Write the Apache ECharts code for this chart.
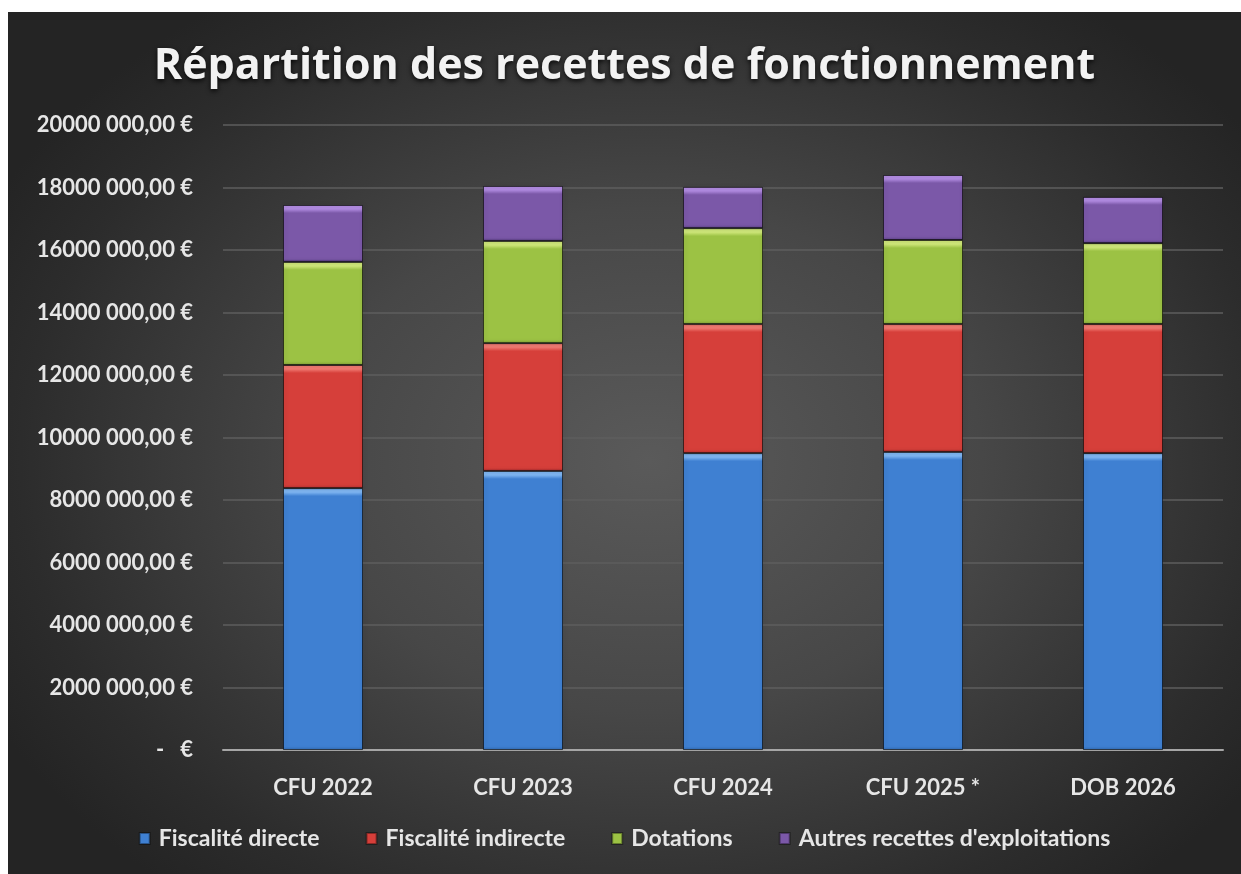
<!DOCTYPE html>
<html>
<head>
<meta charset="utf-8">
<script src="https://cdn.jsdelivr.net/npm/echarts@6/dist/echarts.min.js"></script>
<style>
  html,body{margin:0;padding:0;background:#fff;}
  #chart{position:absolute;left:8px;top:12px;width:1233px;height:862px;
    background:radial-gradient(ellipse 60% 65% at 52% 52%, #5a5a5a 0%, #474747 45%, #2c2c2c 85%, #242424 100%);}
</style>
</head>
<body>
<div id="chart"></div>
<script>
  // données
  var categories = ['CFU 2022', 'CFU 2023', 'CFU 2024', 'CFU 2025 *', 'DOB 2026'];
  var fiscaliteDirecte   = [8380000, 8930000, 9500000, 9540000, 9500000];
  var fiscaliteIndirecte = [3940000, 4090000, 4130000, 4090000, 4130000];
  var dotations          = [3300000, 3270000, 3070000, 2690000, 2590000];
  var autresRecettes     = [1820000, 1760000, 1320000, 2080000, 1480000];
  var yTickLabels = ['-   €', '2000 000,00 €', '4000 000,00 €', '6000 000,00 €', '8000 000,00 €',
    '10000 000,00 €', '12000 000,00 €', '14000 000,00 €', '16000 000,00 €', '18000 000,00 €', '20000 000,00 €'];

  var font = 'Lato, "Open Sans", sans-serif';
  var pxPerEuro = 625 / 20000000; // hauteur de la grille / max, pour un biseau d'environ 6px

  function bevel(v, light, base, dark) {
    var h = Math.max(v * pxPerEuro, 1);
    var a = Math.min(4 / h, 0.3), b = Math.min(8 / h, 0.4), c = Math.max(1 - 3 / h, 0.6);
    return {
      type: 'linear', x: 0, y: 0, x2: 0, y2: 1,
      colorStops: [
        {offset: 0, color: light},
        {offset: a, color: light},
        {offset: b, color: base},
        {offset: c, color: base},
        {offset: 1, color: dark}
      ]
    };
  }

  function serie(name, data, light, base, dark) {
    return {
      name: name,
      type: 'bar',
      stack: 'total',
      barWidth: '40%',
      data: data.map(function (v) {
        return {value: v, itemStyle: {color: bevel(v, light, base, dark)}};
      }),
      itemStyle: {
        color: base,
        borderColor: 'rgba(0,0,0,0.35)',
        borderWidth: 1,
        shadowColor: 'rgba(0,0,0,0.45)',
        shadowBlur: 4,
        shadowOffsetX: 1
      }
    };
  }

  var chart = echarts.init(document.getElementById('chart'));
  var option = {
    backgroundColor: 'transparent',
    title: {
      text: 'Répartition des recettes de fonctionnement',
      left: 'center',
      top: 28,
      textStyle: {
        color: '#f2f2f2', fontSize: 43, fontWeight: 'bold', fontFamily: '"Open Sans", sans-serif',
        textShadowColor: 'rgba(0,0,0,0.85)', textShadowBlur: 5, textShadowOffsetY: 2
      }
    },
    legend: {
      bottom: 19,
      left: 'center',
      itemWidth: 10,
      itemHeight: 11,
      itemGap: 46,
      icon: 'rect',
      textStyle: {color: '#e6e6e6', fontSize: 23, fontWeight: 'bold', fontFamily: font, padding: [0, 0, 0, 4]}
    },
    grid: {left: 215, right: 18, top: 113, bottom: 124, containLabel: false},
    xAxis: {
      type: 'category',
      data: categories,
      axisLine: {lineStyle: {color: '#a6a6a6', width: 2}},
      axisTick: {show: false},
      axisLabel: {color: '#e6e6e6', fontSize: 22, fontWeight: 'bold', fontFamily: font, margin: 27}
    },
    yAxis: {
      type: 'value',
      min: 0, max: 20000000, interval: 2000000,
      axisLine: {show: false},
      axisTick: {show: false},
      splitLine: {lineStyle: {color: '#5e5e5e', width: 1.5}},
      axisLabel: {
        color: '#e6e6e6', fontSize: 22, fontWeight: 'bold', fontFamily: font, margin: 30,
        formatter: function (v) { return yTickLabels[Math.round(v / 2000000)]; }
      }
    },
    series: [
      serie('Fiscalité directe', fiscaliteDirecte, '#7fb6f2', '#3f80d2', '#2f68b0'),
      serie('Fiscalité indirecte', fiscaliteIndirecte, '#f07a72', '#d63f3a', '#b83230'),
      serie('Dotations', dotations, '#cfe77a', '#9cc244', '#7f9f35'),
      serie("Autres recettes d'exploitations", autresRecettes, '#b08ae0', '#7b58a8', '#5f438a')
    ]
  };
  chart.setOption(option);
</script>
</body>
</html>
